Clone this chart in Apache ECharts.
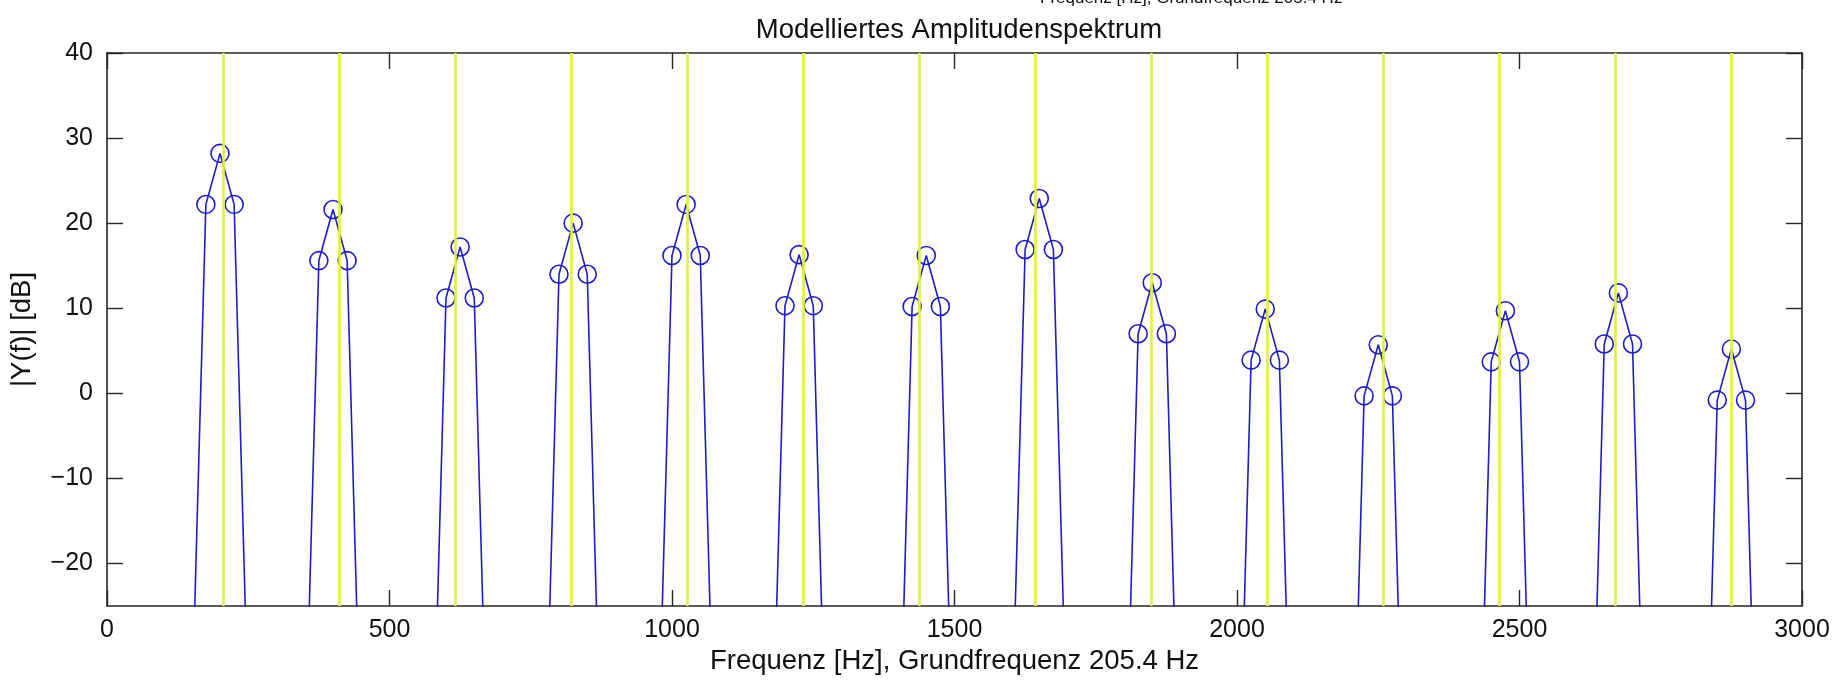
<!DOCTYPE html>
<html>
<head>
<meta charset="utf-8">
<script src="https://cdn.jsdelivr.net/npm/echarts@6/dist/echarts.min.js"></script>
<style>
  html, body { margin: 0; padding: 0; background: #ffffff; }
  #chart { width: 1842px; height: 681px; }
</style>
</head>
<body>
<div id="chart"></div>
<script>
// ---- data ----
const titleText = 'Modelliertes Amplitudenspektrum';
const xLabel = 'Frequenz [Hz], Grundfrequenz 205.4 Hz';
const yLabel = '|Y(f)| [dB]';

// harmonics of the fundamental (yellow markers)
const harmonicFreqs = [205.4, 410.8, 616.2, 821.6, 1027.0, 1232.4, 1437.8,
                       1643.2, 1848.6, 2054.0, 2259.4, 2464.8, 2670.2, 2875.6];

// modelled spectrum bins (Hz) – five bins around each harmonic
const specFreq = [
  150, 175, 200, 225, 250,
  350, 375, 400, 425, 450,
  575, 600, 625, 650, 675,
  775, 800, 825, 850, 875,
  975, 1000, 1025, 1050, 1075,
  1175, 1200, 1225, 1250, 1275,
  1400, 1425, 1450, 1475, 1500,
  1600, 1625, 1650, 1675, 1700,
  1800, 1825, 1850, 1875, 1900,
  2000, 2025, 2050, 2075, 2100,
  2200, 2225, 2250, 2275, 2300,
  2425, 2450, 2475, 2500, 2525,
  2625, 2650, 2675, 2700, 2725,
  2825, 2850, 2875, 2900, 2925
];
// magnitude in dB for each bin
const specDb = [
  -37.8, 22.2, 28.2, 22.2, -37.8,
  -44.4, 15.6, 21.6, 15.6, -44.4,
  -48.8, 11.2, 17.2, 11.2, -48.8,
  -46.0, 14.0, 20.0, 14.0, -46.0,
  -43.8, 16.2, 22.2, 16.2, -43.8,
  -49.7, 10.3, 16.3, 10.3, -49.7,
  -49.8, 10.2, 16.2, 10.2, -49.8,
  -43.1, 16.9, 22.9, 16.9, -43.1,
  -53.0,  7.0, 13.0,  7.0, -53.0,
  -56.1,  3.9,  9.9,  3.9, -56.1,
  -60.3, -0.3,  5.7, -0.3, -60.3,
  -56.3,  3.7,  9.7,  3.7, -56.3,
  -54.2,  5.8, 11.8,  5.8, -54.2,
  -60.8, -0.8,  5.2, -0.8, -60.8
];
// which bins carry a circle marker
const specMarked = [
  0,1,1,1,0, 0,1,1,1,0, 0,1,1,1,0, 0,1,1,1,0, 0,1,1,1,0,
  0,1,1,1,0, 0,1,1,1,0, 0,1,1,1,0, 0,1,1,1,0, 0,1,1,1,0,
  0,1,1,1,0, 0,1,1,1,0, 0,1,1,1,0, 0,1,1,1,0
];

const xTicks = [0, 500, 1000, 1500, 2000, 2500, 3000];
const yTicks = [-20, -10, 0, 10, 20, 30, 40];
const xMin = 0, xMax = 3000, yMin = -25, yMax = 40;

// ---- chart ----
const FONT = 'Liberation Sans, Arial, Helvetica, sans-serif';
const AX = '#262626';
const BLUE = '#1c1cc8';
const chart = echarts.init(document.getElementById('chart'), null, { renderer: 'canvas' });

const lineData = specFreq.map((f, i) => (
  specMarked[i] ? [f, specDb[i]] : { value: [f, specDb[i]], symbol: 'none' }
));

const fmtY = v => (v < 0 ? '\u2212' + Math.abs(v) : String(v));
const fmtX = v => String(v);

const mkTick = vals => ({ show: true, inside: true, length: 16, customValues: vals,
                          lineStyle: { color: AX, width: 1.4 } });
const mkLine = () => ({ show: true, onZero: false, lineStyle: { color: AX, width: 1.6 } });

chart.setOption({
  animation: false,
  backgroundColor: '#ffffff',
  textStyle: { fontFamily: FONT },
  title: {
    text: titleText,
    left: 954,
    textAlign: 'center',
    top: 11,
    textStyle: { fontFamily: FONT, fontSize: 27.5, fontWeight: 'normal', color: '#111111' }
  },
  graphic: [{
    type: 'text',
    left: 1040,
    top: -10,
    silent: true,
    style: { text: xLabel, font: '17px ' + FONT, fill: '#111111' }
  }],
  grid: { left: 107, right: 40, top: 53, bottom: 75, containLabel: false },
  xAxis: [{
    type: 'value', min: xMin, max: xMax, interval: 500, position: 'bottom',
    axisLine: mkLine(),
    axisTick: mkTick(xTicks),
    splitLine: { show: false },
    axisLabel: { customValues: xTicks, formatter: fmtX, fontSize: 25, color: '#111111', margin: 12, fontFamily: FONT },
    name: xLabel, nameLocation: 'middle', nameGap: 34,
    nameTextStyle: { fontSize: 27.5, color: '#111111', fontFamily: FONT }
  }, {
    type: 'value', min: xMin, max: xMax, interval: 500, position: 'top',
    axisLine: mkLine(),
    axisTick: mkTick(xTicks),
    splitLine: { show: false },
    axisLabel: { show: false }
  }],
  yAxis: [{
    type: 'value', min: yMin, max: yMax, position: 'left',
    axisLine: mkLine(),
    axisTick: mkTick(yTicks),
    splitLine: { show: false },
    axisLabel: { customValues: yTicks, formatter: fmtY, fontSize: 25, color: '#111111', margin: 14, fontFamily: FONT },
    name: yLabel, nameLocation: 'middle', nameGap: 71, nameRotate: 90,
    nameTextStyle: { fontSize: 27.5, color: '#111111', fontFamily: FONT }
  }, {
    type: 'value', min: yMin, max: yMax, position: 'right',
    axisLine: mkLine(),
    axisTick: mkTick(yTicks),
    splitLine: { show: false },
    axisLabel: { show: false }
  }],
  series: [{
    type: 'line',
    name: 'harmonics',
    data: [],
    z: 1,
    markLine: {
      silent: true,
      symbol: ['none', 'none'],
      label: { show: false },
      lineStyle: { color: '#e3ef3a', width: 2.6, type: 'solid' },
      emphasis: { disabled: true },
      data: harmonicFreqs.map(f => ({ xAxis: f }))
    }
  }, {
    type: 'line',
    name: 'spectrum',
    data: lineData,
    z: 3,
    clip: true,
    symbol: 'circle',
    symbolSize: 18,
    showAllSymbol: true,
    lineStyle: { color: BLUE, width: 1.6 },
    itemStyle: { color: 'rgba(0,0,0,0)', borderColor: BLUE, borderWidth: 1.6 }
  }]
});
</script>
</body>
</html>
